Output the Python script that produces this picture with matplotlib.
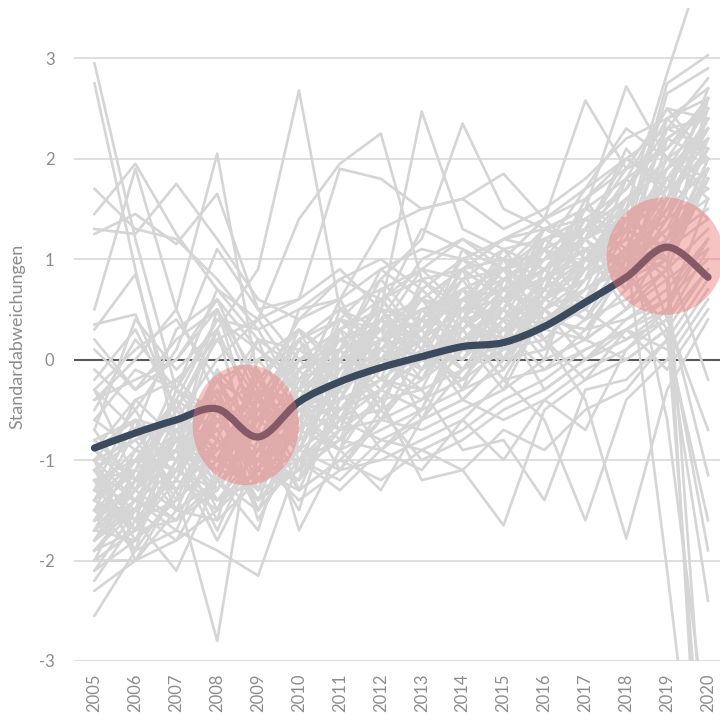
import numpy as np
import matplotlib
matplotlib.use('Agg')
import matplotlib.pyplot as plt
from matplotlib.path import Path
from matplotlib.patches import PathPatch, Ellipse

plt.rcParams['font.family'] = ['Lato', 'DejaVu Sans']
plt.rcParams['axes.unicode_minus'] = False

years = list(range(2005, 2021))
y_ticks = [-3, -2, -1, 0, 1, 2, 3]

# average over all indicators (bold line)
mean_line = [-0.88, -0.73, -0.60, -0.49, -0.77, -0.42, -0.22, -0.08,
             0.03, 0.13, 0.17, 0.33, 0.57, 0.82, 1.12, 0.82]

# single indicators (grey lines)
indicators = [
    [2.95, 1.2, -0.3, -0.6, -0.9, -0.4, 0.1, 0.3, 0.2, 0.5, 0.6, 0.8, 1.0, 1.3, 1.6, 2.2],
    [2.75, 0.9, -0.8, -0.2, -1.1, -0.5, -0.3, 0.0, 0.4, 0.3, 0.7, 0.9, 1.1, 1.0, 1.5, 1.9],
    [1.7, 1.3, 1.2, 0.8, 0.3, 0.5, 0.6, 0.9, 1.1, 1.0, 1.2, 1.3, 1.5, 1.8, 2.1, 2.5],
    [1.45, 1.95, 1.25, 0.7, 0.2, -0.1, 0.3, 0.5, 0.4, 0.7, 0.9, 1.2, 1.4, 1.7, 2.4, 2.6],
    [1.3, 1.25, 1.75, 1.2, 0.6, 0.4, 0.8, 0.6, 0.9, 1.2, 1.0, 1.4, 1.6, 2.0, 1.8, 2.2],
    [1.25, 1.45, 1.15, 1.65, 0.5, 0.6, 1.9, 1.8, 1.5, 1.6, 1.85, 1.4, 1.7, 2.3, 2.0, 2.6],
    [0.5, 1.9, 0.5, 2.05, -0.2, 0.3, 0.0, 0.6, 0.8, 0.5, 0.9, 1.1, 1.3, 1.6, 1.9, 2.3],
    [0.35, 0.45, -0.5, 0.3, 0.9, 2.68, 0.5, 0.3, 0.6, 0.4, 0.8, 0.7, 1.0, 1.4, 1.7, 2.0],
    [0.3, 0.85, -0.6, 0.0, 0.4, 1.4, 1.95, 2.25, 0.8, 0.9, 1.0, 0.9, 1.2, 1.5, 2.2, 2.5],
    [-0.1, -0.5, 0.1, 1.1, 0.5, 0.0, 0.3, 0.5, 2.47, 1.3, 1.1, 1.2, 1.3, 1.9, 2.5, 2.4],
    [-0.4, -0.2, 0.0, 0.5, -0.2, 0.2, 0.4, 0.8, 1.2, 2.35, 1.5, 1.3, 1.4, 1.7, 2.3, 2.8],
    [-0.6, -0.9, -0.4, 0.4, 0.1, -0.2, 0.2, 0.4, 0.6, 0.9, 1.2, 1.4, 2.58, 1.9, 2.1, 2.6],
    [-0.8, -0.6, -1.0, -0.2, -0.5, 0.1, 0.4, 0.3, 0.5, 0.6, 0.8, 1.0, 1.5, 2.72, 2.0, 1.8],
    [-0.9, -1.2, -0.7, -0.4, -0.8, -0.3, 0.0, 0.2, 0.4, 0.3, 0.6, 0.9, 1.2, 1.5, 2.85, 4.1],
    [-1.0, -0.8, -1.3, -0.9, -0.6, -0.5, -0.2, 0.0, 0.2, 0.5, 0.4, 0.7, 1.0, 1.3, 2.75, 3.03],
    [-1.1, -1.4, -0.9, -1.2, -0.4, -0.8, -0.5, -0.3, 0.0, 0.2, 0.3, 0.5, 0.8, 1.1, 1.4, 1.7],
    [-1.2, -1.0, -1.5, -0.6, -1.0, -0.7, -0.4, -0.2, 0.1, 0.0, 0.4, 0.6, 0.9, 1.2, 2.65, 2.9],
    [-1.3, -1.6, -1.1, -1.4, -1.2, -0.9, -0.6, -0.5, -0.2, 0.1, 0.0, 0.4, 0.7, 0.9, 1.2, 1.5],
    [-1.4, -1.1, -1.3, -0.8, -1.5, -1.0, -0.8, -0.4, -0.3, -0.1, 0.2, 0.3, 0.5, 1.0, 1.3, 1.6],
    [-1.5, -1.3, -0.8, -1.1, -0.9, -1.2, -0.7, -0.6, -0.4, -0.2, 0.1, 0.2, 0.6, 0.8, 1.1, 1.4],
    [-1.6, -1.5, -1.2, -1.5, -1.1, -0.6, -0.9, -0.7, -0.5, -0.3, -0.1, 0.4, 0.3, 0.7, 1.0, 2.0],
    [-1.7, -1.8, -1.4, -1.0, -1.3, -1.1, -0.8, -0.9, -0.6, -0.4, 0.0, 0.1, 0.4, 0.6, 0.9, 1.3],
    [-1.8, -1.4, -1.6, -1.3, -0.7, -1.3, -1.0, -0.6, -0.7, -0.5, -0.3, 0.0, 0.2, 0.5, 0.8, 1.1],
    [-1.9, -1.7, -1.0, -0.7, -1.4, -0.9, -1.1, -1.0, -0.8, -0.6, -0.2, -0.1, 0.3, 0.4, 0.7, 1.2],
    [-2.0, -2.0, -1.5, -1.6, -1.2, -1.0, -0.6, -0.8, -0.9, -0.7, -0.4, -0.2, 0.1, 0.3, 0.6, 1.0],
    [-2.2, -1.6, -2.1, -1.2, -1.0, -1.4, -1.1, -0.5, -1.0, -0.8, -0.5, -0.3, 0.0, 0.2, 0.5, -1.15],
    [-2.55, -1.9, -1.3, -2.8, -0.3, -1.7, -0.9, -1.3, -0.6, -0.4, -0.6, -0.4, -0.1, 0.1, 0.4, 0.9],
    [-1.5, -1.9, -1.7, -1.9, -2.15, -1.0, -0.7, -0.4, -1.2, -1.1, -1.65, -0.5, -0.2, 0.0, 0.3, -1.9],
    [-1.2, -1.7, -1.1, -0.3, -1.6, -0.8, -0.5, -0.2, -0.3, -0.9, -0.8, -1.4, -0.3, -0.2, 0.2, -2.4],
    [-0.7, -1.3, -0.6, -1.5, -0.5, -0.4, -1.1, -0.6, -0.1, 0.3, -0.2, -0.6, -1.6, -0.4, 0.0, 0.6],
    [-1.0, -0.5, -1.2, -0.5, -1.3, -0.6, -0.3, -0.9, -0.5, 0.4, 0.5, 0.2, -0.4, -1.78, -0.3, 0.4],
    [-1.4, -1.0, -0.9, -1.7, -0.8, -1.5, -0.2, 0.1, 0.3, 0.6, 0.4, 0.8, 0.6, 1.1, -2.1, -5.5],
    [-1.6, -1.2, -0.5, -0.9, -0.4, 0.2, 0.5, 0.7, 0.9, 0.8, 1.1, 0.9, 1.1, 0.9, 0.3, -5.0],
    [-1.1, -0.7, -1.4, -1.0, -0.7, 0.5, 0.8, 1.0, 0.7, 1.0, 0.8, 1.1, 0.9, 1.2, 0.8, -6.0],
    [-0.5, 0.2, -0.3, 0.7, 0.4, 0.6, 0.9, 0.5, 1.3, 1.1, 0.7, 1.3, 1.1, 0.8, 1.0, -4.5],
    [-1.3, -0.9, -1.0, -0.6, -1.1, -0.2, 0.3, 0.6, 0.2, 0.7, 0.9, 0.6, 1.2, 1.4, 1.6, 2.1],
    [-1.7, -1.4, -0.7, -1.4, -0.9, -0.5, -0.4, 0.2, 0.5, 0.2, 0.6, 0.9, 1.4, 1.3, 1.8, 2.4],
    [-1.9, -1.5, -1.8, -1.1, -1.2, -0.7, -0.9, -0.3, 0.0, 0.4, 0.2, 0.6, 0.8, 1.1, 1.5, 1.9],
    [-0.3, -0.7, 0.3, 0.6, -0.3, 0.4, 0.6, 1.3, 1.5, 1.6, 1.3, 1.5, 1.8, 2.2, 2.4, 2.7],
    [-1.5, -1.1, -0.8, -1.3, -0.6, -0.9, -0.1, 0.4, 0.6, 0.1, 0.5, 1.0, 1.2, 1.6, 1.9, 2.2],
    [-1.8, -1.3, -1.6, -0.8, -1.4, -1.1, -0.6, 0.0, -0.2, 0.6, 0.7, 0.5, 1.0, 1.5, 2.0, 2.3],
    [-1.2, -1.5, -1.2, -0.4, -0.8, -0.1, 0.2, -0.1, 0.3, 0.9, 0.6, 1.0, 1.3, 1.7, 2.2, 2.5],
    [-2.1, -1.8, -1.0, -1.8, -1.0, -1.2, -0.5, -0.3, 0.1, -0.2, 0.3, 0.7, 1.5, 1.4, 1.7, 2.6],
    [-0.9, -0.4, -0.2, 0.2, -0.4, 0.0, 0.1, 0.9, 0.6, 0.9, 1.2, 1.1, 1.7, 2.0, 2.3, 2.1],
    [-1.4, -1.6, -1.4, -0.5, -0.2, -0.6, 0.0, 0.4, 1.0, 1.2, 0.9, 1.3, 1.2, 1.8, 2.5, 2.0],
    [-1.6, -1.0, -0.4, -1.2, -1.7, -0.4, -0.6, 0.1, -0.1, 0.4, 1.0, 0.8, 1.6, 1.9, 2.1, 2.6],
    [-1.0, -1.7, -1.2, -0.1, -0.6, -0.3, 0.6, -0.1, 0.2, -0.3, 0.2, 1.2, 0.9, 1.3, 1.1, 1.8],
    [-2.3, -2.0, -1.8, -1.5, -0.9, -1.0, -1.2, -0.8, -0.6, -0.1, 0.1, 0.3, 0.7, 1.0, 1.7, 2.4],
    [-0.3, 0.1, 0.4, -0.2, 0.0, 0.3, -0.1, 0.2, 0.5, 0.1, 0.6, 0.3, 0.2, 0.5, 0.9, 1.9],
    [-0.6, -0.1, -0.3, 0.4, 0.3, -0.4, 0.2, 0.3, -0.2, 0.4, 0.1, 0.5, 0.0, 0.3, 0.5, 1.6],
    [-1.7, -1.2, -0.9, -0.3, -1.1, -0.3, -0.5, 0.0, 0.2, -0.4, 0.0, 0.6, 0.4, 0.9, 1.3, 2.1],
    [-1.1, -1.6, -0.5, -1.0, -0.2, -0.9, 0.1, -0.3, -0.5, 0.3, 0.6, 0.1, 1.0, 0.7, 1.6, 2.3],
    [0.1, -0.3, 0.2, 0.5, -0.4, 0.2, -0.6, 0.2, 0.0, 0.7, 0.2, 0.9, 0.5, 0.2, 0.4, 1.1],
    [-1.9, -1.4, -1.1, -0.2, -0.8, -0.6, 0.3, -0.5, 0.4, -0.1, 0.4, 0.3, 0.8, 1.4, 1.1, 2.0],
    [-1.4, -0.6, -0.7, -1.1, -0.1, -1.0, -0.3, 0.5, -0.1, 0.2, -0.3, 0.5, 0.2, 1.0, 1.8, 1.4],
    [-0.9, -1.3, -0.3, -0.8, -1.4, -0.4, -0.8, 0.1, 0.6, 0.4, 0.0, 0.8, 1.1, 0.5, 1.2, 2.2],
    [-0.2, 0.3, -0.5, 0.2, 0.4, -0.2, 0.0, -0.6, 0.1, 0.6, 0.3, -0.1, 0.1, 0.3, -0.1, 0.5],
    [-1.2, -1.9, -0.6, -0.9, -0.3, -1.3, -0.4, -0.2, -0.4, 0.1, 0.7, 0.4, 0.3, 0.9, 1.5, 2.4],
    [-0.4, 0.0, 0.5, -0.4, 0.2, 0.1, -0.2, 0.4, 0.0, -0.2, 0.4, -0.3, 0.0, 0.4, 0.6, 1.2],
    [-1.8, -1.1, -0.4, -1.3, -0.5, -0.8, 0.4, 0.0, -0.3, 0.5, -0.1, 0.6, 1.0, 0.8, 1.4, 2.5],
    [-1.0, -1.4, -0.9, 0.3, -1.2, -0.5, -0.7, 0.2, 0.4, 0.0, 0.6, 0.3, 0.9, 1.5, 1.0, 1.9],
    [-1.5, -0.7, -1.3, -0.6, -0.4, -1.1, 0.0, -0.4, 0.2, 0.8, 0.2, 0.7, 0.4, 1.1, 2.0, 1.6],
    [-0.7, 0.4, -0.1, 0.3, -0.6, 0.3, -0.5, -0.1, 0.7, 0.3, -0.2, 0.5, 0.2, 0.0, 0.3, 0.9],
    [-2.0, -1.2, -1.5, -0.5, -0.6, -0.4, -0.1, 0.3, -0.6, 0.2, 0.5, 0.0, 1.1, 1.0, 1.6, 2.7],
    [-1.3, -0.4, -0.8, -1.6, -0.3, -0.7, 0.5, 0.1, 0.3, -0.3, 0.8, 0.5, 0.7, 1.6, 1.2, 1.8],
    [-1.1, -1.8, -1.0, -0.1, -1.3, -0.1, -0.6, -0.3, 0.5, 0.7, 0.1, 0.6, 1.3, 0.9, 1.9, 2.2],
    [-1.6, -1.0, -0.6, -0.8, 0.2, -0.9, -0.2, 0.6, 0.1, 0.0, 0.4, 1.1, 0.5, 1.3, 1.0, 2.6],
    [0.2, -0.3, 0.0, 0.6, 0.1, -0.3, 0.2, -0.2, 0.8, 0.4, 0.9, 0.2, -0.2, 0.3, 0.1, 0.7],
    [-1.4, -1.7, -0.7, -1.0, -0.9, 0.0, -0.4, 0.4, -0.1, 0.6, 0.3, 0.8, 1.2, 0.7, 2.2, 2.0],
    [-1.8, -1.3, -0.8, -0.4, -1.5, -0.6, 0.1, -0.5, 0.5, 0.1, 0.7, 0.4, 0.6, 1.4, 1.8, 2.3],
    [-0.9, -0.6, -1.5, -1.2, 0.0, -0.5, -0.9, 0.2, 0.3, 0.9, 0.0, 0.7, 1.4, 1.1, 0.9, 1.8],
    [-1.2, -1.1, -0.2, -0.6, -1.1, -1.2, 0.3, 0.0, -0.2, 0.4, 1.0, 0.3, 0.8, 1.8, 1.4, 2.1],
    [-1.7, -0.9, -1.1, -1.3, -0.6, 0.2, -0.3, 0.7, 0.2, -0.1, 0.5, 1.2, 0.9, 1.2, 2.3, 2.4],
    [-0.3, -1.2, -0.9, 0.5, -0.8, -0.3, 0.6, -0.1, 0.4, 1.0, 0.6, 0.9, 1.3, 2.0, 1.7, 2.6],
    [-1.5, -1.5, -0.3, -0.5, -1.2, -0.7, -0.2, 0.3, 0.9, 0.5, 1.1, 0.6, 1.0, 1.6, 2.0, 1.7],
    [-1.0, -2.0, -1.3, -0.9, -0.5, -0.1, 0.1, 0.8, 0.3, 0.7, 0.5, 1.3, 1.5, 1.3, 1.9, 2.5],
    [-2.1, -1.5, -0.8, -1.0, -0.2, -0.8, 0.4, 0.2, 0.7, 0.3, 0.8, 1.0, 1.2, 2.1, 1.6, 2.3],
    [-1.3, -1.4, -1.7, -0.8, -1.0, -0.2, -0.7, 0.5, 0.1, 1.1, 0.9, 0.7, 1.6, 1.0, 2.4, 2.0],
    [-1.1, -0.8, -0.6, -0.3, -0.6, 0.0, 0.1, 0.5, 0.4, 0.8, 0.9, 1.0, 1.2, 0.9, 0.2, -1.6],
    [-0.8, -1.2, -0.4, -0.7, -0.3, -0.4, 0.2, 0.0, 0.6, 0.5, 0.7, 0.8, 1.1, 1.3, -0.6, -3.8],
    [-1.4, -1.0, -1.1, -0.5, -0.7, 0.1, -0.1, 0.3, 0.5, 0.6, 1.0, 1.4, 1.0, 1.5, 0.4, -0.7],
    [-1.6, -1.3, -0.9, -1.1, -0.4, -0.6, 0.0, 0.4, 0.2, 0.9, 0.6, 1.2, 1.4, 1.1, 1.0, -0.2],
    [-1.8, -1.5, -1.2, -1.4, -1.1, -1.3, -1.0, -1.2, -0.9, -1.1, -0.7, -0.9, -0.5, -0.3, 0.2, 0.8],
    [-2.0, -1.7, -1.6, -1.2, -1.5, -1.0, -1.3, -0.9, -1.1, -0.6, -1.0, -0.4, -0.7, 0.1, 0.5, 1.2],
]

# highlighted periods (center year, center value, width in years, height in std)
highlights = [(2008.7, -0.65, 2.6, 1.2), (2018.95, 1.03, 2.86, 1.17)]


def smooth_path(x, y):
    # smoothed line like a spreadsheet chart: Catmull-Rom as cubic bezier
    x = np.asarray(x, float)
    y = np.asarray(y, float)
    verts = [(x[0], y[0])]
    codes = [Path.MOVETO]
    n = len(x)
    for i in range(n - 1):
        x0, y0 = (x[i - 1], y[i - 1]) if i > 0 else (x[i], y[i])
        x3, y3 = (x[i + 2], y[i + 2]) if i + 2 < n else (x[i + 1], y[i + 1])
        c1 = (x[i] + (x[i + 1] - x0) / 6, y[i] + (y[i + 1] - y0) / 6)
        c2 = (x[i + 1] - (x3 - x[i]) / 6, y[i + 1] - (y3 - y[i]) / 6)
        verts += [c1, c2, (x[i + 1], y[i + 1])]
        codes += [Path.CURVE4] * 3
    return Path(verts, codes)


fig = plt.figure(figsize=(7.2, 7.22), dpi=100)
ax = fig.add_axes([0.1028, 0.0845, 0.909, 0.9044])

for yt in y_ticks:
    ax.axhline(yt, color='#d9d9d9', lw=1.2, zorder=0)
ax.axhline(0, color='#595959', lw=1.5, zorder=1)

for s in indicators:
    ax.plot(years, s, color='#d5d5d5', lw=1.9, zorder=2)

ax.add_patch(PathPatch(smooth_path(years, mean_line), fill=False,
                       edgecolor='#3c4a5e', lw=5.2, capstyle='round',
                       joinstyle='round', zorder=3))

for cx, cy, w, h in highlights:
    ax.add_patch(Ellipse((cx, cy), w, h, facecolor='#ec6f6f', alpha=0.42,
                         edgecolor='none', zorder=4))

ax.set_xlim(2004.5, 2020.5)
ax.set_ylim(-3, 3.5)
ax.set_xticks(years)
ax.set_xticklabels([str(y) for y in years], rotation=90)
ax.set_yticks(y_ticks)
ax.tick_params(axis='both', length=0, labelsize=12, colors='#8c8c8c')
ax.tick_params(axis='y', pad=14)
ax.tick_params(axis='x', pad=9)
for sp in ax.spines.values():
    sp.set_visible(False)

fig.text(17 / 720, 1 - 336 / 722, 'Standardabweichungen', rotation=90,
         ha='center', va='center', fontsize=13, color='#8c8c8c')

fig.savefig('out.png', dpi=100)
